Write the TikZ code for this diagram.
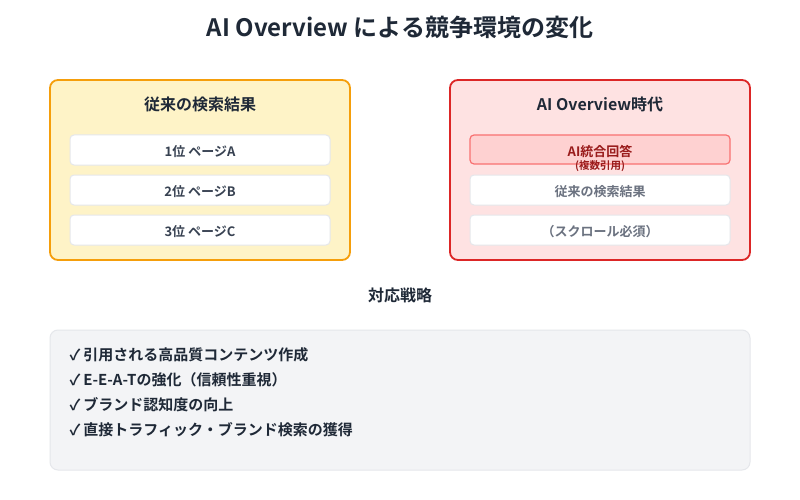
\documentclass[tikz,border=0pt]{standalone}
\usepackage{fontspec}
\setmainfont{Noto Sans CJK JP}
\newfontfamily\cjkb{Noto Sans CJK JP Bold}
\definecolor{titlec}{HTML}{1F2937}
\definecolor{yfill}{HTML}{FEF3C7}
\definecolor{ybord}{HTML}{F59E0B}
\definecolor{rfill}{HTML}{FEE2E2}
\definecolor{rbord}{HTML}{DC2626}
\definecolor{aifill}{HTML}{FECACA}
\definecolor{aibord}{HTML}{F87171}
\definecolor{aitext}{HTML}{991B1B}
\definecolor{gbord}{HTML}{E5E7EB}
\definecolor{gfill}{HTML}{F3F4F6}
\definecolor{itext}{HTML}{374151}
\definecolor{mtext}{HTML}{6B7280}
\tikzset{
  panel/.style={rounded corners=8pt, line width=1.8pt},
  item/.style={rounded corners=4pt, draw=gbord, fill=white, line width=1pt},
  itemtxt/.style={font=\cjkb\fontsize{13}{15}\selectfont, text=itext},
  head/.style={font=\cjkb\fontsize{16}{18}\selectfont, text=titlec},
  strat/.style={font=\cjkb\fontsize{15}{17}\selectfont, text=titlec, anchor=west}
}
\begin{document}
\begin{tikzpicture}[x=1pt,y=-1pt]
\useasboundingbox[fill=white] (0,0) rectangle (800,500);
\node[font=\cjkb\fontsize{24}{27}\selectfont, text=titlec] (title) at (400,27) {AI Overview による競争環境の変化};
% left panel
\draw[panel, fill=yfill, draw=ybord] (50,80) rectangle (350,260);
\node[head] (lhead) at (200,104) {従来の検索結果};
\draw[item] (70,135) rectangle (330,165);
\node[itemtxt] (l1) at (200,152) {1位 ページA};
\draw[item] (70,175) rectangle (330,205);
\node[itemtxt] (l2) at (200,192) {2位 ページB};
\draw[item] (70,215) rectangle (330,245);
\node[itemtxt] (l3) at (200,232) {3位 ページC};
% right panel
\draw[panel, fill=rfill, draw=rbord] (450,80) rectangle (750,260);
\node[head] (rhead) at (600,104) {AI Overview時代};
\draw[rounded corners=4pt, draw=aibord, fill=aifill!70!rfill, line width=1.2pt] (470,135) rectangle (730,164);
\node[itemtxt, text=aitext] (r1) at (600,152) {AI統合回答};
\node[font=\cjkb\fontsize{10.5}{12}\selectfont, text=aitext] (r1b) at (600,166.5) {(複数引用)};
\draw[item] (470,175) rectangle (730,205);
\node[itemtxt, text=mtext] (r2) at (600,192) {従来の検索結果};
\draw[item] (470,215) rectangle (730,245);
\node[itemtxt, text=mtext] (r3) at (600,232) {（スクロール必須）};
% strategy
\node[head] (shead) at (400,295) {対応戦略};
\draw[rounded corners=8pt, draw=gbord, fill=gfill, line width=1pt] (50,330) rectangle (750,470);
\node[strat] (s1) at (66,355) {✓\hspace{3pt}引用される高品質コンテンツ作成};
\node[strat] (s2) at (66,380) {✓\hspace{3pt}E-E-A-Tの強化（信頼性重視）};
\node[strat] (s3) at (66,405) {✓\hspace{3pt}ブランド認知度の向上};
\node[strat] (s4) at (66,430) {✓\hspace{3pt}直接トラフィック・ブランド検索の獲得};
\end{tikzpicture}
\end{document}
